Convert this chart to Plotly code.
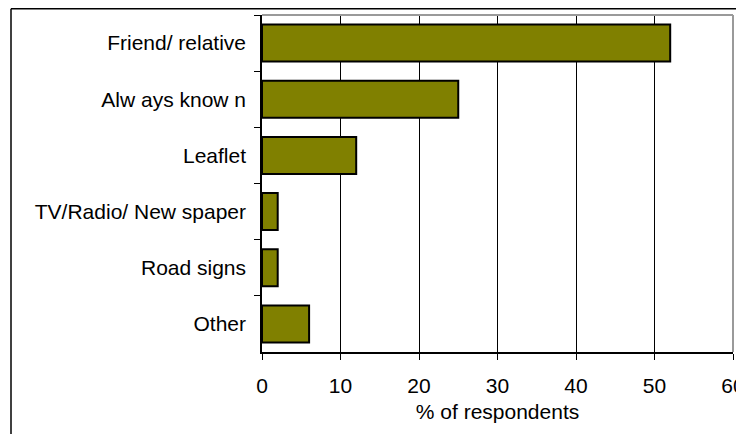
import plotly.graph_objects as go

categories = ["Friend/ relative", "Alw ays know n", "Leaflet", "TV/Radio/ New spaper", "Road signs", "Other"]
values = [52, 25, 12, 2, 2, 6]
x_ticks = [0, 10, 20, 30, 40, 50, 60]

# page has an 8px body margin, so the figure starts at (8, 8)
OFF = 8
W, H = 744 - OFF, 434 - OFF
L, R, T, B = 262 - OFF, 11, 15 - OFF, 82
pw, ph = W - L - R, H - T - B

FONT = "Liberation Sans, Arial, sans-serif"

fig = go.Figure(go.Bar(
    x=values, y=categories, orientation="h",
    marker=dict(color="#808000", line=dict(color="black", width=2)),
    width=0.66,
))

def px2paper_x(px):
    return (px - OFF - L) / pw

def px2paper_y(py):
    return 1 - (py - OFF - T) / ph

shapes = [
    # outer frame (left and top)
    dict(type="line", xref="paper", yref="paper", x0=px2paper_x(11), x1=px2paper_x(11),
         y0=px2paper_y(8.7), y1=px2paper_y(434), line=dict(color="black", width=1.5)),
    dict(type="line", xref="paper", yref="paper", x0=px2paper_x(11), x1=px2paper_x(744),
         y0=px2paper_y(8.7), y1=px2paper_y(8.7), line=dict(color="black", width=1.5)),
    # plot area top & right (gray)
    dict(type="line", xref="paper", yref="paper", x0=0, x1=1, y0=1, y1=1,
         line=dict(color="#9a9a9a", width=2)),
    dict(type="line", xref="paper", yref="paper", x0=1, x1=1, y0=0, y1=1,
         line=dict(color="#9a9a9a", width=2)),
]

fig.update_layout(
    width=W, height=H,
    margin=dict(l=L, r=R, t=T, b=B, autoexpand=False),
    paper_bgcolor="white", plot_bgcolor="white",
    font=dict(family=FONT, size=21, color="black"),
    showlegend=False,
    shapes=shapes,
    xaxis=dict(
        range=[0, 60], tickvals=x_ticks, ticktext=[str(v) for v in x_ticks],
        showgrid=True, gridcolor="black", gridwidth=1,
        showline=True, linecolor="black", linewidth=1.5,
        ticks="outside", ticklen=6, tickcolor="black",
        zeroline=False, automargin=False,
        ticklabelstandoff=8, ticklabeloverflow="allow",
        title=dict(text="% of respondents", standoff=8, font=dict(size=21)),
        tickfont=dict(size=21),
    ),
    yaxis=dict(
        autorange="reversed", type="category",
        showgrid=False, showline=True, linecolor="black", linewidth=1.5,
        ticks="outside", ticklen=6, tickcolor="black", tickson="boundaries",
        tickfont=dict(size=21), automargin=False,
        ticklabelstandoff=10,
    ),
)

fig.write_html("out.html", config={"displayModeBar": False})
